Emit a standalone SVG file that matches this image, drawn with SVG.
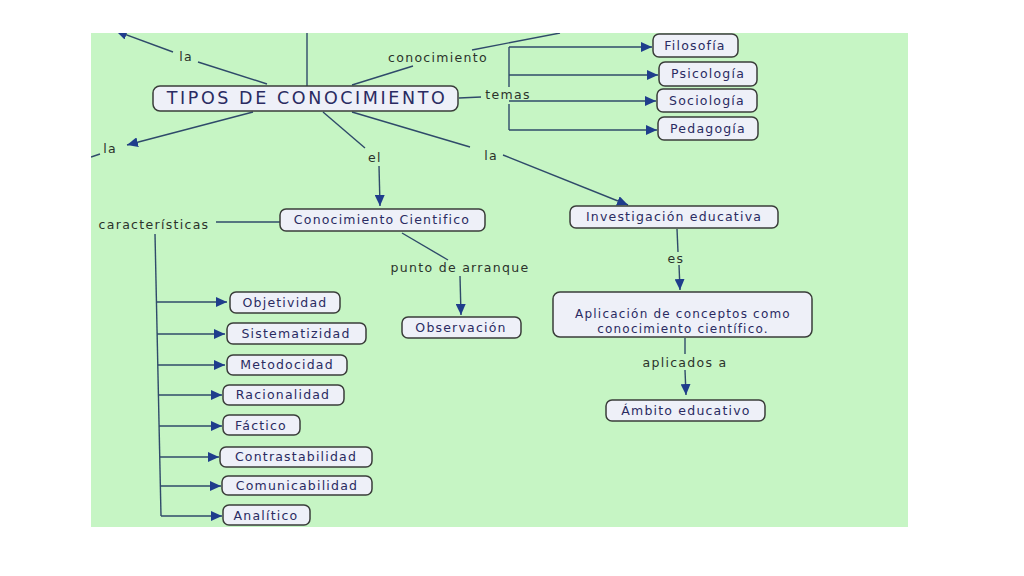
<svg xmlns="http://www.w3.org/2000/svg" width="1024" height="576" viewBox="0 0 1024 576">
<style>
.bg{fill:#c6f5c4}
.node rect{fill:#eef0f8;stroke:#3a3d3a;stroke-width:1.5}
.node text{font-family:"DejaVu Sans",Verdana,sans-serif;font-size:12.5px;fill:#2a2b62;text-anchor:middle;letter-spacing:1.2px}
.lbl{font-family:"DejaVu Sans",Verdana,sans-serif;font-size:12.5px;fill:#2b332b;text-anchor:middle;letter-spacing:1.3px}
.c line{stroke:#2f4a6a;stroke-width:1.4;fill:none}
.c .arr{marker-end:url(#ah)}
</style>
<defs>
<marker id="ah" markerUnits="userSpaceOnUse" markerWidth="12" markerHeight="10" refX="11" refY="5" orient="auto">
<path d="M0,0 L11,5 L0,10 z" fill="#1f3d8c"/>
</marker>
<clipPath id="clip"><rect x="91" y="33" width="817" height="494"/></clipPath>
</defs>
<rect width="1024" height="576" fill="#ffffff"/>
<rect class="bg" x="91" y="33" width="817" height="494"/>
<g id="connectors" class="c" clip-path="url(#clip)">
<line x1="267" y1="84" x2="198" y2="62"/>
<line class="arr" x1="173" y1="52" x2="116" y2="31"/>
<line x1="307" y1="33" x2="307" y2="86"/>
<line class="arr" x1="253" y1="112" x2="127" y2="145"/>
<line x1="91" y1="157" x2="100" y2="154"/>
<line x1="352" y1="85" x2="413" y2="66"/>
<line x1="472" y1="50" x2="560" y2="33"/>
<line x1="459" y1="98" x2="481" y2="97"/>
<line x1="509" y1="47" x2="509" y2="87"/>
<line x1="509" y1="104" x2="509" y2="130"/>
<line class="arr" x1="509" y1="47" x2="652" y2="47"/>
<line class="arr" x1="509" y1="75" x2="658" y2="75"/>
<line class="arr" x1="509" y1="101" x2="656" y2="101"/>
<line class="arr" x1="509" y1="130" x2="657" y2="130"/>
<line x1="323" y1="112" x2="365" y2="148"/>
<line class="arr" x1="379" y1="166" x2="380" y2="206"/>
<line x1="352" y1="112" x2="470" y2="147"/>
<line class="arr" x1="503" y1="155" x2="628" y2="205"/>
<line x1="280" y1="222" x2="216" y2="222"/>
<line x1="155" y1="234" x2="161" y2="516" stroke-width="2"/>
<line class="arr" x1="157" y1="302" x2="227" y2="302"/>
<line class="arr" x1="157" y1="334" x2="225" y2="334"/>
<line class="arr" x1="158" y1="365" x2="225" y2="365"/>
<line class="arr" x1="158" y1="395" x2="222" y2="395"/>
<line class="arr" x1="159" y1="426" x2="222" y2="426"/>
<line class="arr" x1="160" y1="457" x2="219" y2="457"/>
<line class="arr" x1="160" y1="486" x2="221" y2="486"/>
<line class="arr" x1="161" y1="516" x2="222" y2="516"/>
<line x1="402" y1="233" x2="448" y2="260"/>
<line class="arr" x1="460" y1="276" x2="461" y2="315"/>
<line x1="677" y1="229" x2="678" y2="252"/>
<line class="arr" x1="679" y1="265" x2="680" y2="290"/>
<line x1="685" y1="338" x2="685" y2="354"/>
<line class="arr" x1="685" y1="370" x2="686" y2="395"/>
</g>
<g id="labels">
<text class="lbl" x="186" y="61">la</text>
<text class="lbl" x="110" y="153">la</text>
<text class="lbl" x="438" y="62">conocimiento</text>
<text class="lbl" x="508" y="99">temas</text>
<text class="lbl" x="375" y="162">el</text>
<text class="lbl" x="491" y="160">la</text>
<text class="lbl" x="154" y="229">características</text>
<text class="lbl" x="460" y="272">punto de arranque</text>
<text class="lbl" x="676" y="263">es</text>
<text class="lbl" x="685" y="367">aplicados a</text>
</g>
<g id="n-tipos" class="node"><rect x="153" y="86" width="305" height="25" rx="7"/><text x="307" y="104" style="font-size:17.5px;letter-spacing:2.6px">TIPOS DE CONOCIMIENTO</text></g>
<g id="n-filosofia" class="node"><rect x="653" y="34" width="85" height="23" rx="6"/><text x="695" y="50">Filosofía</text></g>
<g id="n-psicologia" class="node"><rect x="659" y="62" width="98" height="24" rx="6"/><text x="708" y="78">Psicología</text></g>
<g id="n-sociologia" class="node"><rect x="657" y="89" width="100" height="23" rx="6"/><text x="707" y="105">Sociología</text></g>
<g id="n-pedagogia" class="node"><rect x="658" y="117" width="100" height="23" rx="6"/><text x="708" y="133">Pedagogía</text></g>
<g id="n-cientifico" class="node"><rect x="280" y="209" width="205" height="22" rx="6"/><text x="382" y="224">Conocimiento Cientifico</text></g>
<g id="n-investigacion" class="node"><rect x="570" y="206" width="208" height="22" rx="6"/><text x="674" y="221">Investigación educativa</text></g>
<g id="n-observacion" class="node"><rect x="402" y="317" width="119" height="21" rx="6"/><text x="461" y="332">Observación</text></g>
<g id="n-aplicacion" class="node"><rect x="553" y="292" width="259" height="45" rx="7"/><text x="683" y="318" style="font-size:12px">Aplicación de conceptos como</text><text x="683" y="333" style="font-size:12px">conocimiento científico.</text></g>
<g id="n-ambito" class="node"><rect x="606" y="400" width="159" height="21" rx="6"/><text x="686" y="415">Ámbito educativo</text></g>
<g id="n-objetividad" class="node"><rect x="230" y="292" width="110" height="21" rx="6"/><text x="285" y="307">Objetividad</text></g>
<g id="n-sistematizidad" class="node"><rect x="227" y="323" width="139" height="21" rx="6"/><text x="296" y="338">Sistematizidad</text></g>
<g id="n-metodocidad" class="node"><rect x="227" y="355" width="120" height="20" rx="6"/><text x="287" y="369">Metodocidad</text></g>
<g id="n-racionalidad" class="node"><rect x="223" y="385" width="121" height="20" rx="6"/><text x="283" y="399">Racionalidad</text></g>
<g id="n-factico" class="node"><rect x="223" y="415" width="77" height="20" rx="6"/><text x="261" y="430">Fáctico</text></g>
<g id="n-contrastabilidad" class="node"><rect x="220" y="447" width="152" height="20" rx="6"/><text x="296" y="461">Contrastabilidad</text></g>
<g id="n-comunicabilidad" class="node"><rect x="222" y="476" width="150" height="19" rx="6"/><text x="297" y="490">Comunicabilidad</text></g>
<g id="n-analitico" class="node"><rect x="223" y="505" width="87" height="20" rx="6"/><text x="266" y="520">Analítico</text></g>
</svg>
